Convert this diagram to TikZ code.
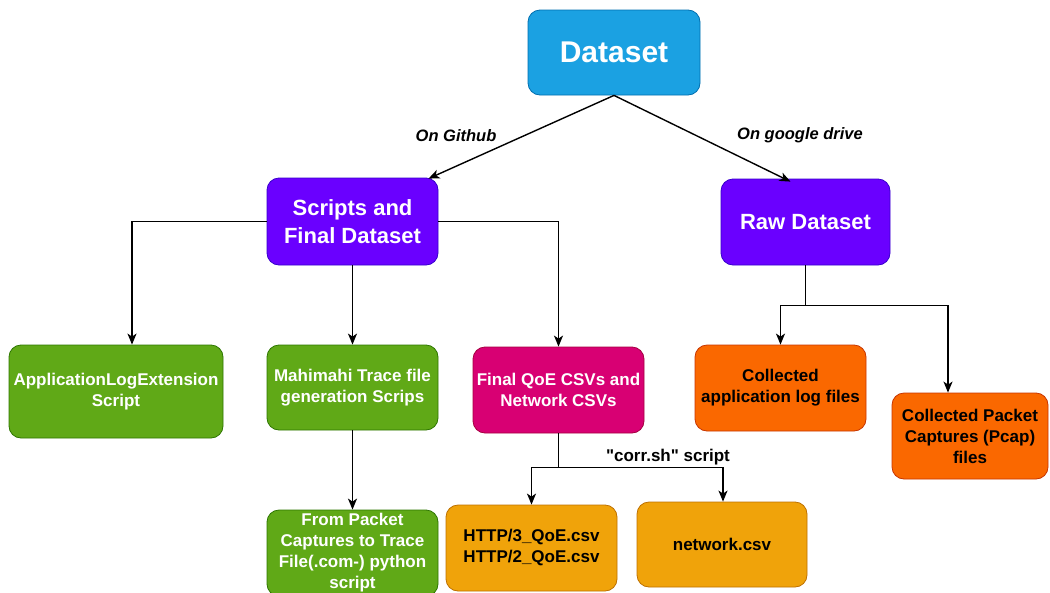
\documentclass[tikz,border=0pt]{standalone}
\usepackage{fontspec}
\setmainfont{Liberation Sans}
\newfontfamily\rawfont{Liberation Sans}
\usetikzlibrary{arrows.meta}
\definecolor{cblue}{HTML}{1BA1E2}\definecolor{sblue}{HTML}{006EAF}
\definecolor{cviol}{HTML}{6A00FF}\definecolor{sviol}{HTML}{3700CC}
\definecolor{cmag}{HTML}{D80073}\definecolor{smag}{HTML}{A50040}
\definecolor{cgreen}{HTML}{60A917}\definecolor{sgreen}{HTML}{2D7600}
\definecolor{corange}{HTML}{FA6800}\definecolor{sorange}{HTML}{C73500}
\definecolor{camber}{HTML}{F0A30A}\definecolor{samber}{HTML}{BD7000}
\tikzset{
  box/.style={rounded corners=12pt, line width=0.8pt, align=center, inner sep=0pt,
    font=\bfseries\fontsize{17}{21}\selectfont},
  bluebox/.style={box, fill=cblue, draw=sblue, text=white, font=\bfseries\fontsize{30}{36}\selectfont},
  violbox/.style={box, fill=cviol, draw=sviol, text=white, font=\bfseries\fontsize{22}{28}\selectfont},
  greenbox/.style={box, fill=cgreen, draw=sgreen, text=white},
  magbox/.style={box, fill=cmag, draw=smag, text=white},
  orangebox/.style={box, fill=corange, draw=sorange, text=black},
  amberbox/.style={box, fill=camber, draw=samber, text=black},
  arr/.style={line width=1.4pt, -{Stealth[length=11pt,width=9pt,inset=3pt]}},
  elabel/.style={font=\bfseries\itshape\fontsize{16.5}{20}\selectfont},
  plabel/.style={font=\rawfont\bfseries\fontsize{17}{20}\selectfont},
}
\begin{document}
\begin{tikzpicture}[x=1pt,y=-1pt]
\useasboundingbox (0,0) rectangle (1050,592);
\node[bluebox, minimum width=172pt, minimum height=85pt] (dataset) at (614,52.5) {Dataset};
\node[violbox, minimum width=171pt, minimum height=87pt] (scripts) at (352.5,221.5) {Scripts and\\Final Dataset};
\node[violbox, minimum width=169pt, minimum height=86pt] (raw) at (805.5,222) {Raw Dataset};
\node[greenbox, minimum width=214pt, minimum height=93pt] (app) at (116,391.5) {ApplicationLogExtension\\Script};
\node[greenbox, minimum width=171pt, minimum height=85pt] (mahi) at (352.5,387.5) {Mahimahi Trace file\\generation Scrips};
\node[magbox, minimum width=171pt, minimum height=86pt] (qoe) at (558.5,390) {Final QoE CSVs and\\Network CSVs};
\node[orangebox, minimum width=171pt, minimum height=86pt] (applog) at (780.5,388) {Collected\\application log files};
\node[orangebox, minimum width=156pt, minimum height=86pt] (packet) at (970,436) {Collected Packet\\Captures (Pcap)\\files};
\node[greenbox, minimum width=171pt, minimum height=86pt] (frompkt) at (352.5,553) {From Packet\\Captures to Trace\\File(.com-) python\\script};
\node[amberbox, minimum width=171pt, minimum height=86pt] (http) at (531.5,548) {HTTP/3\_QoE.csv\\HTTP/2\_QoE.csv};
\node[amberbox, minimum width=170pt, minimum height=85pt] (network) at (722,544.5) {network.csv};

\draw[arr] (dataset.south) -- ([xshift=76pt,yshift=-1pt]scripts.north);
\draw[arr] (dataset.south) -- ([xshift=-15pt,yshift=-3pt]raw.north);
\node[elabel] (lgit) at (456,135.5) {On Github};
\node[elabel] (lgd) at (800,135.5) {On google drive};

\draw[arr] (scripts.west) -| ([xshift=16pt]app.north);
\draw[arr] (scripts.south) -- (mahi.north);
\draw[arr] (scripts.east) -| (qoe.north);

\draw[line width=1.4pt] (raw.south) -- ++(0,40) coordinate (rj);
\draw[arr] (rj) -| (applog.north);
\draw[arr] (rj) -| ([xshift=-22pt]packet.north);

\draw[arr] (mahi.south) -- (frompkt.north);

\draw[line width=1.4pt] (qoe.south) -- ++(0,34) coordinate (qj);
\draw[arr] (qj) -| (http.north);
\draw[arr] (qj) -| ([xshift=1pt]network.north);
\node[plabel] (lcorr) at (668,457) {"corr.sh" script};
\end{tikzpicture}
\end{document}
